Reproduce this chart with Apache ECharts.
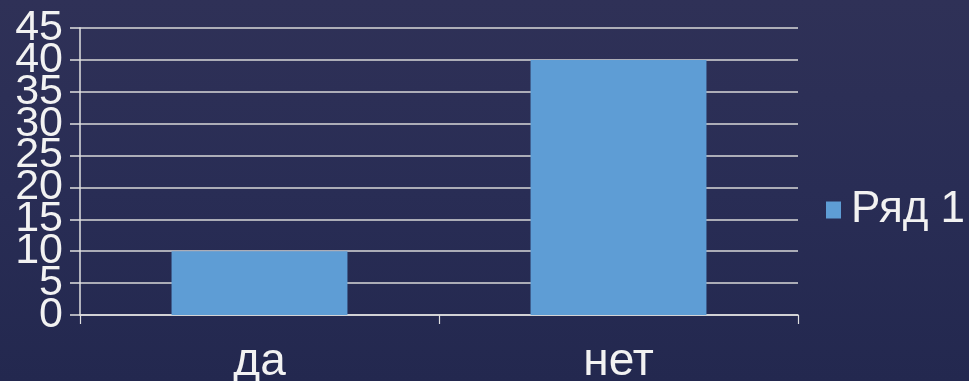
<!DOCTYPE html>
<html>
<head>
<meta charset="utf-8">
<script src="https://cdn.jsdelivr.net/npm/echarts@6/dist/echarts.min.js"></script>
<style>
  html, body { margin: 0; padding: 0; }
  body { background: linear-gradient(180deg, #2f3157 0%, #292d55 50%, #23284f 100%); }
  #chart { width: 969px; height: 381px; }
</style>
</head>
<body>
<div id="chart"></div>
<script>
// Survey answers and their counts
const categories = ['да', 'нет'];
const seriesName = 'Ряд 1';
const values = [10, 40];
const yTicks = { min: 0, max: 45, interval: 5 };

const textColor = '#f2f2f2';
const lineColor = '#e0e0e0';
const fontFamily = '"Liberation Sans", Arial, sans-serif';

// The tall labels crowd each other, so the value axis is drawn twice:
// one copy carries the multiples of 10, the other the remaining ticks.
function valueAxis(main, keep) {
  return {
    type: 'value',
    position: 'left',
    min: yTicks.min,
    max: yTicks.max,
    interval: yTicks.interval,
    axisLine: { show: main, lineStyle: { color: lineColor, width: 1.5 } },
    axisTick: { show: main, length: 10, lineStyle: { color: lineColor, width: 1.5 } },
    axisLabel: {
      color: textColor, fontSize: 43, margin: 17, fontFamily: fontFamily,
      showMinLabel: true, showMaxLabel: true, hideOverlap: false,
      formatter: function (v) { return keep(v) ? String(v) : ''; }
    },
    splitLine: { show: main, lineStyle: { color: '#d9d9d9', width: 1.5 } }
  };
}

const chart = echarts.init(document.getElementById('chart'), null, { renderer: 'canvas' });
chart.setOption({
  backgroundColor: 'transparent',
  animation: false,
  textStyle: { fontFamily: fontFamily },
  grid: { left: 80, right: 171, top: 28, bottom: 66, containLabel: false, outerBoundsMode: 'none' },
  legend: {
    data: [seriesName],
    left: 821,
    top: 183,
    icon: 'rect',
    itemWidth: 15,
    itemHeight: 17,
    itemGap: 0,
    textStyle: { color: textColor, fontSize: 44, fontFamily: fontFamily, padding: [0, 0, 0, 5] }
  },
  xAxis: {
    type: 'category',
    data: categories,
    axisLine: { show: true, lineStyle: { color: lineColor, width: 1.5 } },
    axisTick: { show: true, length: 9, lineStyle: { color: lineColor, width: 1.2 } },
    axisLabel: { color: textColor, fontSize: 46, margin: 24, fontFamily: fontFamily },
    splitLine: { show: false }
  },
  yAxis: [
    valueAxis(true, function (v) { return v % 10 === 0; }),
    valueAxis(false, function (v) { return v % 10 !== 0; })
  ],
  series: [{
    name: seriesName,
    type: 'bar',
    yAxisIndex: 0,
    data: values,
    barWidth: '49%',
    itemStyle: { color: '#5e9dd5' }
  }]
});
</script>
</body>
</html>
